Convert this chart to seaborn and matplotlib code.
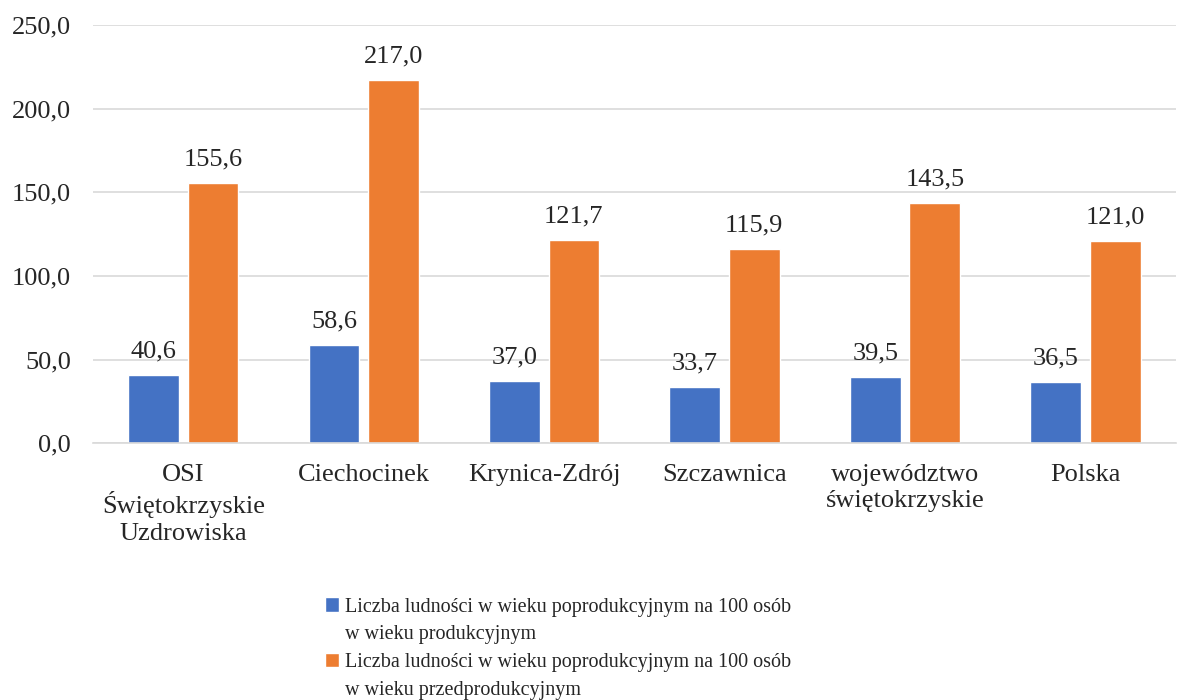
import pandas as pd
import numpy as np
import seaborn as sns
import matplotlib.pyplot as plt
from matplotlib.patches import Patch

sns.set_theme(style="white")
plt.rcParams["font.family"] = ["Liberation Serif", "DejaVu Serif"]

categories = ["OSI\nŚwiętokrzyskie\nUzdrowiska", "Ciechocinek", "Krynica-Zdrój",
              "Szczawnica", "województwo\nświętokrzyskie", "Polska"]
produkcyjny = [40.6, 58.6, 37.0, 33.7, 39.5, 36.5]
przedprodukcyjny = [155.6, 217.0, 121.7, 115.9, 143.5, 121.0]
series = ["Liczba ludności w wieku poprodukcyjnym na 100 osób\nw wieku produkcyjnym",
          "Liczba ludności w wieku poprodukcyjnym na 100 osób\nw wieku przedprodukcyjnym"]
colors = ["#4472C4", "#ED7D31"]

df = pd.DataFrame({
    "kategoria": categories * 2,
    "wartosc": produkcyjny + przedprodukcyjny,
    "seria": [series[0]] * 6 + [series[1]] * 6,
})

fig = plt.figure(figsize=(11.78, 7), dpi=100)
ax = fig.add_axes([0.079, 0.367, 0.919, 0.597])

sns.barplot(data=df, x="kategoria", y="wartosc", hue="seria", palette=colors,
            width=0.66, gap=0.15, ax=ax, legend=False, saturation=1)

fs = 19
for cont in ax.containers:
    labels = [f"{v:.1f}".replace(".", ",") for v in cont.datavalues]
    ax.bar_label(cont, labels=labels, padding=9, fontsize=fs)

ax.set_ylim(0, 250)
ax.set_yticks(np.arange(0, 251, 50))
ax.set_yticklabels([f"{v:.1f}".replace(".", ",") for v in np.arange(0, 251, 50)], fontsize=fs)
ax.tick_params(axis="x", labelsize=fs, length=0, pad=15)
ax.tick_params(axis="y", length=0, pad=16)
for t in ax.get_xticklabels():
    t.set_linespacing(1.25)
ax.set_xlabel("")
ax.set_ylabel("")
ax.yaxis.grid(True, color="#d9d9d9", linewidth=1.2)
ax.set_axisbelow(True)
for s in ["top", "right", "left"]:
    ax.spines[s].set_visible(False)
ax.spines["bottom"].set_color("#d9d9d9")
ax.spines["bottom"].set_linewidth(1.2)

# legend: each two-line label split into rows, marker only on the first row
handles, texts = [], []
for c, s in zip(colors, series):
    first, second = s.split("\n")
    handles += [Patch(facecolor=c), Patch(facecolor="none", edgecolor="none")]
    texts += [first, second]
leg = fig.legend(handles, texts, loc="upper left", bbox_to_anchor=(0.269, 0.158),
                 frameon=False, fontsize=14.5, handlelength=0.7, handleheight=0.7,
                 handletextpad=0.3, labelspacing=0.43, borderaxespad=0)

fig.savefig("out.png", dpi=100)
